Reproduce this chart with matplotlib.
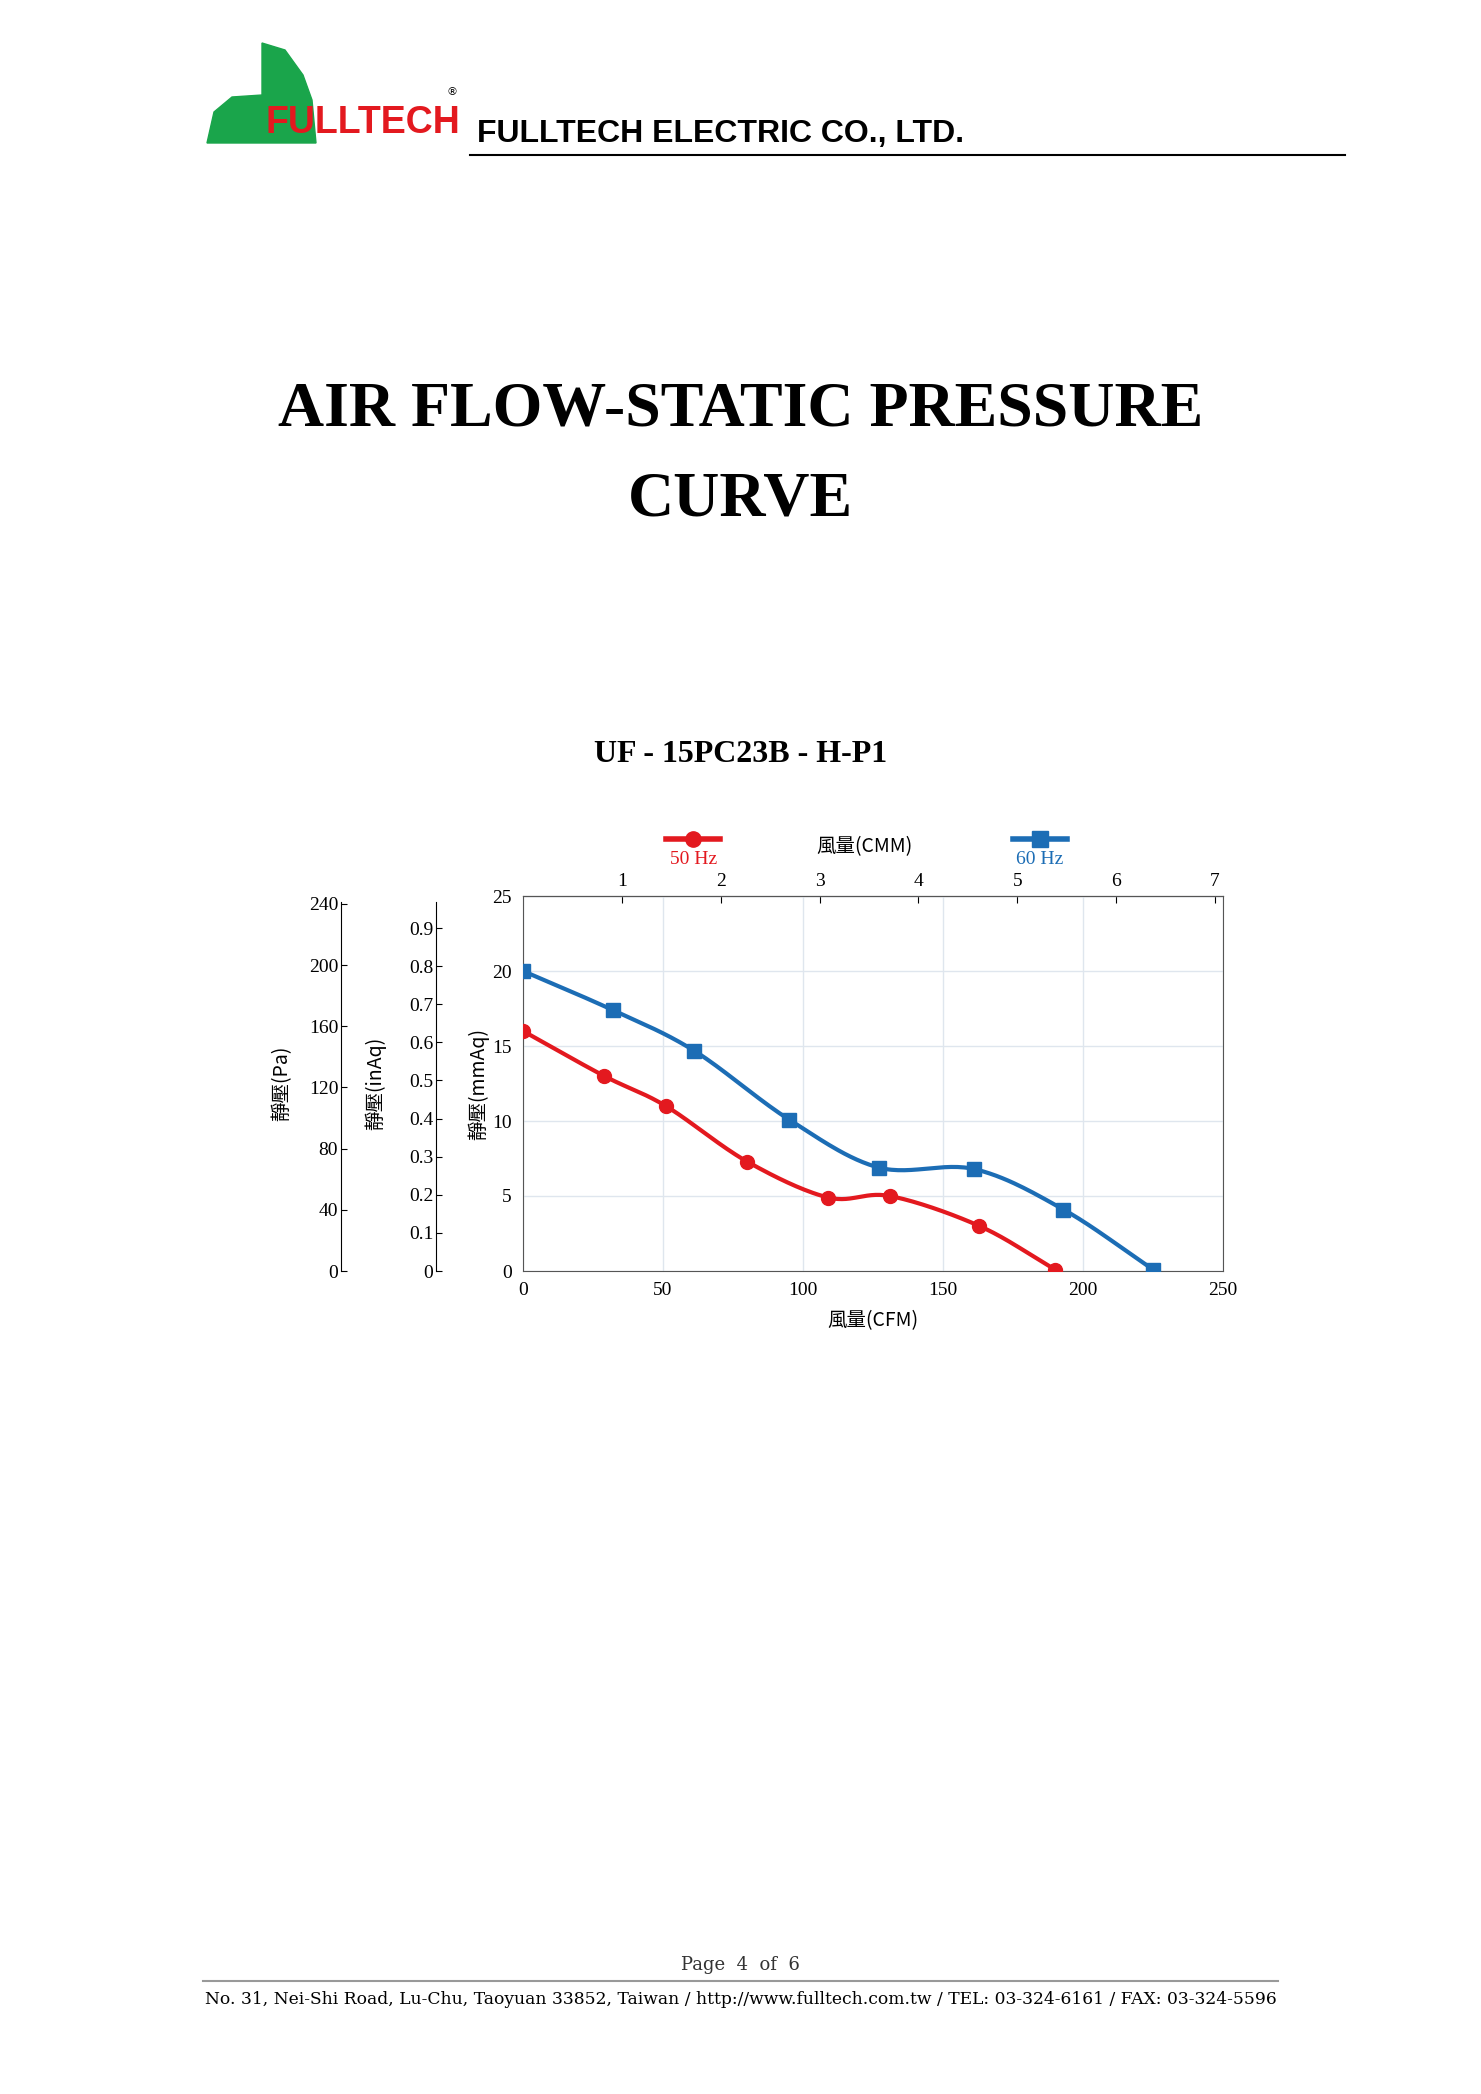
import numpy as np
import matplotlib.pyplot as plt
from matplotlib.patches import Polygon
from matplotlib import font_manager

# data: air flow (CFM) vs static pressure (mmAq)
cfm_50 = [0, 29, 51, 80, 109, 131, 163, 190]
mmaq_50 = [16.0, 13.0, 11.0, 7.3, 4.9, 5.0, 3.0, 0.1]
cfm_60 = [0, 32, 61, 95, 127, 161, 193, 225]
mmaq_60 = [20.0, 17.4, 14.7, 10.1, 6.9, 6.8, 4.1, 0.1]

cfm_ticks = [0, 50, 100, 150, 200, 250]
cmm_ticks = [1, 2, 3, 4, 5, 6, 7]
mmaq_ticks = [0, 5, 10, 15, 20, 25]
inaq_ticks = [0, 0.1, 0.2, 0.3, 0.4, 0.5, 0.6, 0.7, 0.8, 0.9]
inaq_labels = ['0', '0.1', '0.2', '0.3', '0.4', '0.5', '0.6', '0.7', '0.8', '0.9']
pa_ticks = [0, 40, 80, 120, 160, 200, 240]

RED = '#e3191f'
BLUE = '#1c6db5'
W, H = 1481, 2094
SERIF = 'Liberation Serif'
names = {f.name for f in font_manager.fontManager.ttflist}
CJK = ([n for n in ('Noto Sans CJK TC', 'Noto Sans CJK JP', 'Noto Sans CJK SC') if n in names]
       or ['DejaVu Sans'])[0]


def smooth(x, y, n=30):
    # Catmull-Rom curve through the points, for drawing only
    x = np.asarray(x, float)
    y = np.asarray(y, float)
    px = np.concatenate([[2 * x[0] - x[1]], x, [2 * x[-1] - x[-2]]])
    py = np.concatenate([[2 * y[0] - y[1]], y, [2 * y[-1] - y[-2]]])
    t = np.linspace(0, 1, n)
    xs, ys = [], []
    for i in range(1, len(px) - 2):
        for p, out in ((px, xs), (py, ys)):
            p0, p1, p2, p3 = p[i - 1:i + 3]
            out.extend(0.5 * (2 * p1 + (-p0 + p2) * t + (2 * p0 - 5 * p1 + 4 * p2 - p3) * t ** 2
                              + (-p0 + 3 * p1 - 3 * p2 + p3) * t ** 3))
    return xs, ys


def fx(px):
    return px / W


def fy(py):
    return 1 - py / H


fig = plt.figure(figsize=(W / 100, H / 100), dpi=100)

# header logo
logo = Polygon([[fx(207), fy(143)], [fx(214), fy(112)], [fx(232), fy(97)], [fx(262), fy(95)],
                [fx(262), fy(43)], [fx(285), fy(50)], [fx(303), fy(75)], [fx(312), fy(100)],
                [fx(316), fy(143)]],
               closed=True, transform=fig.transFigure, color='#1aa54b', zorder=1)
fig.patches.append(logo)
fig.text(fx(266), fy(123), 'FULLTECH', color=RED, fontsize=27, fontweight='bold',
         fontfamily='Liberation Sans', va='center', ha='left', zorder=2)
fig.text(fx(446), fy(95), '®', fontsize=8, fontfamily='DejaVu Sans')
fig.text(fx(477), fy(134), 'FULLTECH ELECTRIC CO., LTD.', fontsize=23, fontweight='bold',
         fontfamily='Liberation Sans', va='center', ha='left')
fig.add_artist(plt.Line2D([fx(470), fx(1345)], [fy(155), fy(155)], color='black', lw=1.5))

fig.text(0.5, fy(411), 'AIR FLOW-STATIC PRESSURE', fontsize=46, fontweight='bold',
         fontfamily=SERIF, ha='center', va='center')
fig.text(0.5, fy(500), 'CURVE', fontsize=46, fontweight='bold', fontfamily=SERIF,
         ha='center', va='center')
fig.text(0.5, fy(754), 'UF - 15PC23B - H-P1', fontsize=23, fontweight='bold',
         fontfamily=SERIF, ha='center', va='center')

# main axes
ax = fig.add_axes([fx(523), fy(1271), fx(1223) - fx(523), (1271 - 896) / H])
ax.set_xlim(0, 250)
ax.set_ylim(0, 25)
ax.grid(True, color='#dfe6ee', lw=1)
for s in ax.spines.values():
    s.set_color('#555555')
ax.set_xticks(cfm_ticks)
ax.set_yticks(mmaq_ticks)
ax.tick_params(direction='in', length=0, labelsize=14, pad=8)
for lab in ax.get_xticklabels() + ax.get_yticklabels():
    lab.set_fontfamily(SERIF)
ax.set_xlabel('風量(CFM)', fontfamily=CJK, fontsize=14, labelpad=8)
ax.set_ylabel('靜壓(mmAq)', fontfamily=CJK, fontsize=14, labelpad=2)

sx, sy = smooth(cfm_50, mmaq_50)
ax.plot(sx, sy, color=RED, lw=3, zorder=3)
ax.plot(cfm_50, mmaq_50, 'o', color=RED, ms=10, zorder=4)
sx, sy = smooth(cfm_60, mmaq_60)
ax.plot(sx, sy, color=BLUE, lw=3, zorder=3)
ax.plot(cfm_60, mmaq_60, 's', color=BLUE, ms=10, zorder=4)

top = ax.secondary_xaxis('top', functions=(lambda c: c * 0.02832, lambda m: m / 0.02832))
top.set_xticks(cmm_ticks)
top.tick_params(direction='in', length=5, labelsize=14, pad=4)
for lab in top.get_xticklabels():
    lab.set_fontfamily(SERIF)

# extra pressure scales on the left
for xpos, lim, ticks, labels, label, lblx in (
        (436, 25 * 0.03937, inaq_ticks, inaq_labels, '靜壓(inAq)', 375),
        (341, 25 * 9.80665, pa_ticks, [str(v) for v in pa_ticks], '靜壓(Pa)', 282)):
    a = fig.add_axes([fx(xpos), fy(1271), 0.001, (1271 - 896) / H])
    a.set_ylim(0, lim)
    a.set_xticks([])
    a.set_yticks(ticks, labels)
    for k in ('top', 'right', 'bottom'):
        a.spines[k].set_visible(False)
    a.spines['left'].set_bounds(0, lim * 0.985)
    a.tick_params(axis='y', direction='in', length=4, labelsize=14, pad=2)
    for lab in a.get_yticklabels():
        lab.set_fontfamily(SERIF)
    fig.text(fx(lblx), fy(1083), label, rotation=90, fontfamily=CJK, fontsize=14,
             ha='center', va='center')

# legend
fig.add_artist(plt.Line2D([fx(666), fx(720)], [fy(839), fy(839)], color=RED, lw=4))
fig.add_artist(plt.Line2D([fx(1013), fx(1067)], [fy(839), fy(839)], color=BLUE, lw=4))
fig.add_artist(plt.Line2D([fx(693)], [fy(839)], color=RED, marker='o', ms=11))
fig.add_artist(plt.Line2D([fx(1040)], [fy(839)], color=BLUE, marker='s', ms=11))
fig.text(fx(694), fy(860), '50 Hz', color=RED, fontfamily=SERIF, fontsize=14, ha='center', va='center')
fig.text(fx(1040), fy(859), '60 Hz', color=BLUE, fontfamily=SERIF, fontsize=14, ha='center', va='center')
fig.text(fx(864), fy(847), '風量(CMM)', fontfamily=CJK, fontsize=14, ha='center', va='center')

# footer
fig.text(0.5, fy(1965), 'Page  4  of  6', fontfamily='DejaVu Serif', fontsize=13, ha='center', va='center',
         color='#333333')
fig.add_artist(plt.Line2D([fx(203), fx(1278)], [fy(1981), fy(1981)], color='#999999', lw=1.5))
fig.text(0.5, fy(1999), 'No. 31, Nei-Shi Road, Lu-Chu, Taoyuan 33852, Taiwan / http://www.fulltech.com.tw / '
         'TEL: 03-324-6161 / FAX: 03-324-5596', fontfamily='DejaVu Serif', fontsize=12.3,
         ha='center', va='center')

fig.savefig('out.png', dpi=100, facecolor='white')
